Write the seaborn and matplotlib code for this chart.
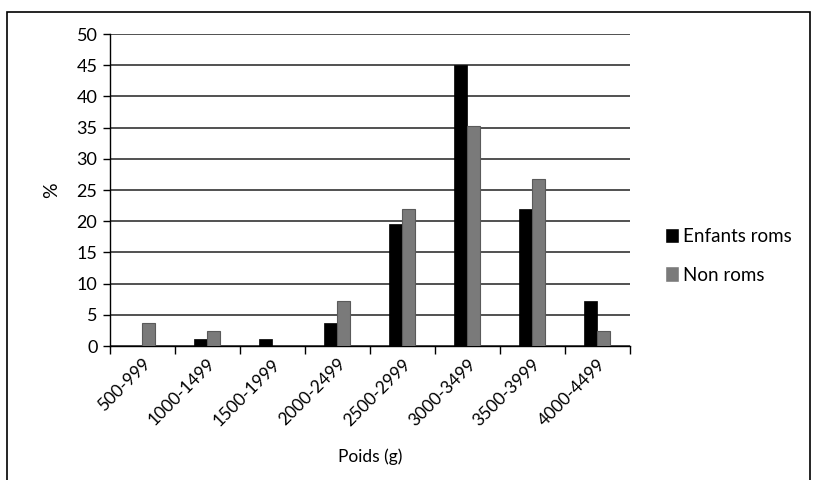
import pandas as pd
import seaborn as sns
import matplotlib.pyplot as plt
from matplotlib.patches import Rectangle

# Données
classes = ['500-999', '1000-1499', '1500-1999', '2000-2499',
           '2500-2999', '3000-3499', '3500-3999', '4000-4499']
enfants_roms = [0, 1.2, 1.2, 3.7, 19.5, 45, 22, 7.3]
non_roms = [3.7, 2.4, 0, 7.3, 22, 35.3, 26.8, 2.4]
groupes = ['Enfants roms', 'Non roms']

df = pd.DataFrame({
    'Poids': classes * 2,
    'Pourcentage': enfants_roms + non_roms,
    'Groupe': [groupes[0]] * len(classes) + [groupes[1]] * len(classes),
})

sns.set_theme(style="white", rc={'text.color': 'black', 'axes.labelcolor': 'black',
                                 'xtick.color': 'black', 'ytick.color': 'black'})
plt.rcParams['font.family'] = ['Lato', 'DejaVu Sans']

fig = plt.figure(figsize=(8.2, 4.8), dpi=100)
ax = fig.add_axes([0.134, 0.279, 0.634, 0.650])

sns.barplot(data=df, x='Poids', y='Pourcentage', hue='Groupe',
            palette={'Enfants roms': '#000000', 'Non roms': '#7a7a7a'},
            width=0.4, gap=0, ax=ax, legend=True, zorder=3)

# bordure plus foncée pour les barres grises
for bar in ax.containers[1]:
    bar.set_edgecolor('#5a5a5a')
    bar.set_linewidth(0.8)
for bar in ax.containers[0]:
    bar.set_edgecolor('#000000')
    bar.set_linewidth(0.5)

ax.set_ylim(0, 50)
ax.set_yticks(range(0, 51, 5))
ax.set_xlim(-0.5, len(classes) - 0.5)
ax.yaxis.grid(True, color='#222222', linewidth=1.1, zorder=0)
ax.set_axisbelow(True)

# graduations de l'axe x entre les catégories
ax.set_xticks([i - 0.5 for i in range(len(classes) + 1)], minor=True)
ax.set_xticks(range(len(classes)))
ax.set_xticklabels(classes, rotation=45, ha='right', rotation_mode='anchor',
                   fontsize=12.5)
ax.tick_params(axis='x', which='major', length=0, pad=7)
ax.tick_params(axis='x', which='minor', length=6, width=1, color='black',
               direction='out', bottom=True)
ax.tick_params(axis='y', length=5, width=1, color='black', direction='out',
               left=True, labelsize=13, pad=4)

for side in ['top', 'right']:
    ax.spines[side].set_visible(False)
for side in ['left', 'bottom']:
    ax.spines[side].set_color('black')
    ax.spines[side].set_linewidth(1)

ax.set_xlabel('Poids (g)', fontsize=12.5, labelpad=14)
ax.set_ylabel('%', fontsize=14, labelpad=12)

leg = ax.legend(loc='center left', bbox_to_anchor=(1.035, 0.29), frameon=False,
                fontsize=13.5, handlelength=0.75, handleheight=0.9,
                handletextpad=0.2, labelspacing=1.15)

# cadre autour de la figure
fig.patches.append(Rectangle((0.008, -0.01), 0.98, 0.985, transform=fig.transFigure,
                             fill=False, edgecolor='black', linewidth=1.2))

plt.savefig('out.png', dpi=100)
